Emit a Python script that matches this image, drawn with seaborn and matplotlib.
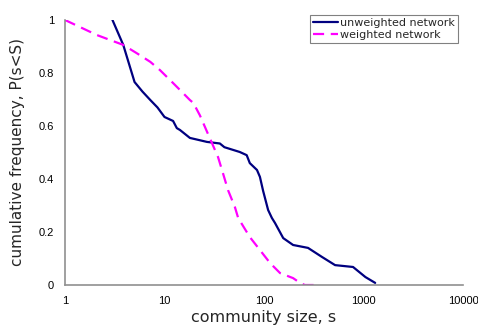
import matplotlib
matplotlib.use("Agg")
import matplotlib.pyplot as plt
from matplotlib.ticker import FixedLocator, FuncFormatter, NullLocator
import pandas as pd
import seaborn as sns

# community size s and cumulative frequency P(s<S) for each network
unweighted_size = [3.0, 3.85, 5.0, 6.0, 7.2, 8.5, 10.0, 12.2, 13.3, 14.3, 18.0,
                   26.7, 36.0, 40.0, 57.0, 67.0, 72.0, 85.0, 91.0, 98.0, 110.0,
                   120.0, 129.0, 156.0, 196.0, 277.0, 382.0, 518.0, 785.0,
                   1045.0, 1310.0]
unweighted_freq = [1.0, 0.906, 0.766, 0.73, 0.698, 0.67, 0.634, 0.619, 0.592,
                   0.585, 0.555, 0.54, 0.534, 0.52, 0.502, 0.49, 0.46, 0.434,
                   0.408, 0.355, 0.283, 0.253, 0.234, 0.177, 0.151, 0.140,
                   0.106, 0.075, 0.068, 0.030, 0.008]

weighted_size = [1.0, 2.1, 3.85, 5.3, 7.2, 9.0, 12.2, 14.3, 18.0, 19.5, 22.7,
                 28.7, 34.5, 38.6, 43.5, 51.0, 55.0, 72.0, 91.0, 115.0, 145.0,
                 196.0, 230.0, 257.0, 340.0]
weighted_freq = [1.0, 0.943, 0.906, 0.874, 0.842, 0.811, 0.762, 0.736, 0.698,
                 0.687, 0.640, 0.552, 0.483, 0.423, 0.358, 0.294, 0.253, 0.181,
                 0.132, 0.083, 0.045, 0.026, 0.008, 0.0, 0.0]

series_names = ["unweighted network", "weighted network"]
x_ticks = [1, 10, 100, 1000, 10000]
y_ticks = [0, 0.2, 0.4, 0.6, 0.8, 1]

sns.set_style("white")
plt.rcParams["font.family"] = ["Liberation Sans", "DejaVu Sans"]

df = pd.concat([
    pd.DataFrame({"s": unweighted_size, "P": unweighted_freq, "network": series_names[0]}),
    pd.DataFrame({"s": weighted_size, "P": weighted_freq, "network": series_names[1]}),
], ignore_index=True)

fig = plt.figure(figsize=(4.78, 3.29), dpi=100)
ax = fig.add_axes([65 / 478, 1 - 285 / 329, 398 / 478, 265 / 329])

palette = {series_names[0]: "#000080", series_names[1]: "#FF00FF"}
dashes = {series_names[0]: "", series_names[1]: (5, 3)}
sns.lineplot(data=df, x="s", y="P", hue="network", style="network",
             palette=palette, dashes=dashes, estimator=None, sort=False,
             linewidth=1.6, ax=ax)

ax.set_xscale("log")
ax.set_xlim(1, 10000)
ax.set_ylim(0, 1)
ax.xaxis.set_major_locator(FixedLocator(x_ticks))
ax.xaxis.set_minor_locator(NullLocator())
ax.xaxis.set_major_formatter(FuncFormatter(lambda v, p: f"{v:g}"))
ax.yaxis.set_major_locator(FixedLocator(y_ticks))
ax.yaxis.set_major_formatter(FuncFormatter(lambda v, p: f"{v:g}"))

for side in ("top", "right"):
    ax.spines[side].set_visible(False)
for side in ("left", "bottom"):
    ax.spines[side].set_color("#909090")
    ax.spines[side].set_linewidth(1.2)
ax.tick_params(direction="in", length=3, width=1, color="#909090",
               labelsize=8, labelcolor="black", pad=8)

ax.set_xlabel("community size, s", fontsize=11.5, family="DejaVu Sans", labelpad=3)
ax.set_ylabel("cumulative frequency, P(s<S)", fontsize=11, family="DejaVu Sans", labelpad=10)

leg = ax.legend(loc="upper right", bbox_to_anchor=(458 / 478, 1 - 15 / 329),
                bbox_transform=fig.transFigure, frameon=True, fancybox=False,
                prop={"family": "DejaVu Sans", "size": 8}, handlelength=2.2,
                handletextpad=0.2, borderpad=0.3, labelspacing=0.15,
                borderaxespad=0)
leg.get_frame().set_edgecolor("#606060")
leg.get_frame().set_linewidth(0.8)

fig.savefig("out.png", dpi=100)
